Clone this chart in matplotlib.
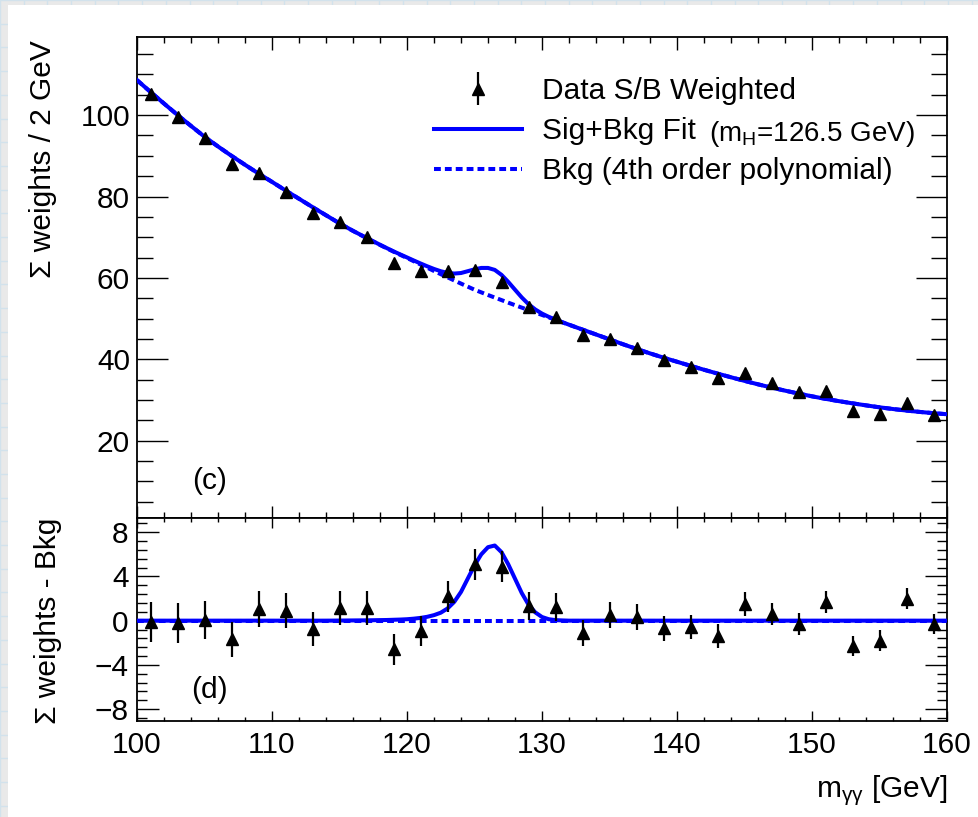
import matplotlib
matplotlib.use('Agg')
import numpy as np
import matplotlib.pyplot as plt
from matplotlib.ticker import MultipleLocator
from matplotlib.patches import Rectangle
from matplotlib.container import ErrorbarContainer
from matplotlib.legend_handler import HandlerErrorbar

plt.rcParams['font.family'] = ['Liberation Sans', 'DejaVu Sans']
plt.rcParams['mathtext.fontset'] = 'custom'
plt.rcParams['mathtext.rm'] = 'Liberation Sans'
plt.rcParams['mathtext.it'] = 'Liberation Sans:italic'

# bin centres (2 GeV bins)
bin_x = np.arange(101, 160, 2)
# S/B weighted data (top panel)
data_w = [105.3, 99.6, 94.5, 88.0, 85.7, 81.2, 75.9, 73.8, 70.1, 63.6,
          61.8, 61.8, 61.9, 58.9, 52.9, 50.4, 45.9, 45.1, 42.8, 39.8,
          38.0, 35.5, 36.7, 34.1, 31.9, 32.3, 27.3, 26.5, 29.3, 26.3]
# data - bkg (bottom panel)
resid = [-0.15, -0.2, 0.06, -1.7, 1.06, 0.9, -0.75, 1.15, 1.15, -2.6,
         -0.97, 2.2, 5.1, 4.9, 1.36, 1.2, -1.1, 0.5, 0.3, -0.7,
         -0.6, -1.4, 1.5, 0.6, -0.3, 1.67, -2.3, -1.8, 2.0, -0.3]
err = [1.8, 1.8, 1.7, 1.6, 1.6, 1.6, 1.5, 1.55, 1.5, 1.4,
       1.36, 1.38, 1.38, 1.36, 1.26, 1.26, 1.17, 1.18, 1.17, 1.14,
       1.1, 1.06, 1.1, 1.03, 1.0, 1.0, 0.92, 0.92, 0.98, 0.9]

# fit curves, finer sampling around the peak
fit_x = np.concatenate([np.arange(100, 119), np.arange(118.5, 132, 0.5), np.arange(132, 161)])
bkg_fit = [108.6, 105.7, 102.85, 100.05, 97.35, 94.7, 92.3, 90.0, 87.8, 85.65,
           83.6, 81.5, 79.45, 77.4, 75.4, 73.4, 71.55, 69.8, 68.1,
           67.27, 66.45, 65.67, 64.9, 64.1, 63.3, 62.5, 61.7, 60.92, 60.15,
           59.37, 58.6, 57.85, 57.1, 56.45, 55.8, 55.17, 54.55, 53.92, 53.3,
           52.7, 52.1, 51.5, 50.9, 50.3, 49.7, 49.1,
           48.5, 47.3, 46.1, 44.9, 43.7, 42.55, 41.45, 40.4, 39.4, 38.4,
           37.43, 36.49, 35.58, 34.7, 33.85, 33.05, 32.3, 31.58, 30.9, 30.28,
           29.71, 29.18, 28.68, 28.2, 27.78, 27.4, 27.06, 26.76, 26.5]
sig_fit = [0, 0, 0, 0, 0, 0, 0, 0, 0, 0,
           0, 0, 0, 0, 0, 0.01, 0.02, 0.03, 0.05,
           0.06, 0.08, 0.1, 0.13, 0.18, 0.25, 0.35, 0.5, 0.72, 1.1,
           1.7, 2.6, 3.8, 5.0, 6.0, 6.65, 6.8, 6.2, 5.1, 3.8,
           2.5, 1.45, 0.75, 0.33, 0.13, 0.05, 0.02,
           0, 0, 0, 0, 0, 0, 0, 0, 0, 0,
           0, 0, 0, 0, 0, 0, 0, 0, 0, 0,
           0, 0, 0, 0, 0, 0, 0, 0, 0]

FS = 21.5
W, H = 979, 817
fig = plt.figure(figsize=(W / 100, H / 100), dpi=100)
fig.patch.set_facecolor('#e9e9e9')

# grid-paper background with the white sheet on top
bg = fig.add_axes([0, 0, 1, 1], zorder=-10)
bg.set_xlim(0, W)
bg.set_ylim(H, 0)
bg.set_facecolor('#e9e9e9')
bg.xaxis.set_major_locator(MultipleLocator(23.7))
bg.yaxis.set_major_locator(MultipleLocator(23.7))
bg.grid(True, color='#d2e2ec', lw=1)
bg.tick_params(length=0, labelbottom=False, labelleft=False)
for s in bg.spines.values():
    s.set_visible(False)
bg.add_patch(Rectangle((8, 5), W, H, facecolor='white', edgecolor='none', zorder=5))

blue = '#0000ff'
ax1 = fig.add_axes([137 / W, 1 - 518 / H, 810 / W, 481 / H])
ax2 = fig.add_axes([137 / W, 1 - 721 / H, 810 / W, 203 / H])

# top panel
l_fit, = ax1.plot(fit_x, np.array(bkg_fit) + np.array(sig_fit), color=blue, lw=2.9, zorder=3)
l_bkg, = ax1.plot(fit_x, bkg_fit, color=blue, lw=2.9, dashes=(1.7, 1.0), zorder=2)
ax1.plot(bin_x, data_w, ls='none', marker='^', ms=9, color='black', zorder=4)
ax1.set_xlim(100, 160)
ax1.set_ylim(1, 119.2)
ax1.xaxis.set_major_locator(MultipleLocator(10))
ax1.xaxis.set_minor_locator(MultipleLocator(2))
ax1.yaxis.set_minor_locator(MultipleLocator(5))
ax1.set_yticks([20, 40, 60, 80, 100])
ax1.tick_params(which='both', direction='in', top=True, right=True, labelsize=FS, width=1.0)
ax1.tick_params(axis='y', which='major', length=22, pad=5)
ax1.tick_params(axis='y', which='minor', length=11.5)
ax1.tick_params(axis='x', which='major', length=9)
ax1.tick_params(axis='x', which='minor', length=4.5)
ax1.tick_params(axis='x', labelbottom=False)

# bottom panel
ax2.plot([100, 160], [0, 0], color=blue, lw=2.9, dashes=(1.7, 1.0), zorder=2)
ax2.plot(fit_x, sig_fit, color=blue, lw=2.9, zorder=3)
eb = ax2.errorbar(bin_x, resid, yerr=err, ls='none', marker='^', ms=9, color='black',
                  elinewidth=1.6, capsize=0, zorder=4)
ax2.set_xlim(100, 160)
ax2.set_ylim(-9.08, 9.29)
ax2.xaxis.set_major_locator(MultipleLocator(10))
ax2.xaxis.set_minor_locator(MultipleLocator(2))
ax2.set_yticks([-8, -4, 0, 4, 8])
ax2.yaxis.set_minor_locator(MultipleLocator(0.8))
ax2.tick_params(which='both', direction='in', top=True, right=True, labelsize=FS, width=1.0)
ax2.tick_params(axis='y', which='major', length=16, pad=6)
ax2.tick_params(axis='y', which='minor', length=7)
ax2.tick_params(axis='x', which='major', length=7, pad=7)
ax2.tick_params(axis='x', which='minor', length=3)

for a in (ax1, ax2):
    for s in a.spines.values():
        s.set_linewidth(1.3)

ax1.legend([eb, l_fit, l_bkg],
           ['Data S/B Weighted', 'Sig+Bkg Fit', 'Bkg (4th order polynomial)'],
           loc='upper left', bbox_to_anchor=(434 / W, 1 - 77 / H),
           bbox_transform=fig.transFigure, frameon=False, fontsize=FS,
           handlelength=2.94, handletextpad=0.67, labelspacing=0.41,
           borderpad=0, borderaxespad=0,
           handler_map={ErrorbarContainer: HandlerErrorbar(yerr_size=0.55)})
# smaller mass note after the Sig+Bkg entry
fig.text(709 / W, 1 - 141 / H, r'(m$_\mathregular{H}$=126.5 GeV)', fontsize=20, va='baseline')

ax1.text(0.089, 0.077, '(c)', transform=ax1.transAxes, fontsize=FS, ha='center', va='center')
ax2.text(0.089, 0.153, '(d)', transform=ax2.transAxes, fontsize=FS, ha='center', va='center')

fig.text(43 / W, 1 - 40 / H, 'Σ weights / 2 GeV', rotation=90, fontsize=FS, ha='center', va='top')
fig.text(48 / W, 1 - 518 / H, 'Σ weights - Bkg', rotation=90, fontsize=FS, ha='center', va='top')
fig.text(947 / W, 1 - 797 / H, r'm$_{\mathregular{\gamma\gamma}}$ [GeV]', fontsize=FS, ha='right', va='baseline')

fig.savefig('out.png', dpi=100, facecolor=fig.get_facecolor())
